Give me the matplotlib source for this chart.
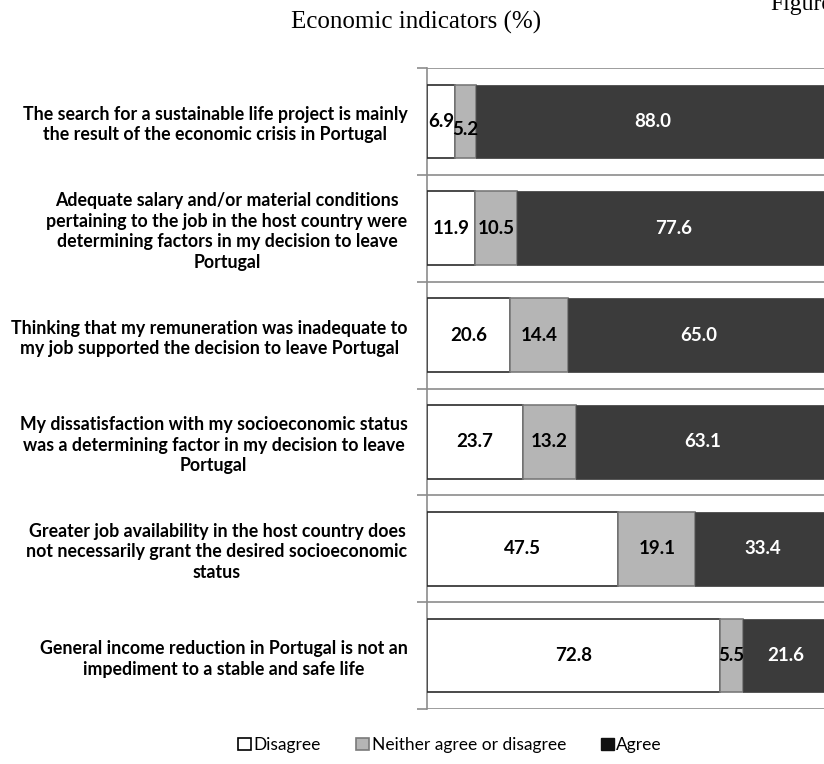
import numpy as np
import matplotlib
matplotlib.use("Agg")
import matplotlib.pyplot as plt
from matplotlib.patches import Patch

statements = [
    "The search for a sustainable life project is mainly\nthe result of the economic crisis in Portugal",
    "Adequate salary and/or material conditions\npertaining to the job in the host country were\ndetermining factors in my decision to leave\nPortugal",
    "Thinking that my remuneration was inadequate to\nmy job supported the decision to leave Portugal",
    "My dissatisfaction with my socioeconomic status\nwas a determining factor in my decision to leave\nPortugal",
    "Greater job availability in the host country does\nnot necessarily grant the desired socioeconomic\nstatus",
    "General income reduction in Portugal is not an\nimpediment to a stable and safe life",
]
disagree = [6.9, 11.9, 20.6, 23.7, 47.5, 72.8]
neither = [5.2, 10.5, 14.4, 13.2, 19.1, 5.5]
agree = [88.0, 77.6, 65.0, 63.1, 33.4, 21.6]
series_names = ["Disagree", "Neither agree or disagree", "Agree"]

W, H = 824, 764
fig = plt.figure(figsize=(W / 100, H / 100), dpi=100)
ax = fig.add_axes([427 / W, 1 - 709 / H, 1 - 427 / W, (709 - 68) / H])

sans = ["Lato", "DejaVu Sans"]
serif = ["Liberation Serif", "DejaVu Serif"]

y = np.arange(len(statements))
bh = 0.69
d = np.array(disagree)
n = np.array(neither)
a = np.array(agree)

ax.barh(y, d, height=bh, color="white", edgecolor="#2b2b2b", linewidth=1.2, zorder=3)
ax.barh(y, n, left=d, height=bh, color="#b5b5b5", edgecolor="#7a7a7a", linewidth=1.2, zorder=3)
ax.barh(y, a, left=d + n, height=bh, color="#3b3b3b", edgecolor="#3b3b3b", linewidth=0.5, zorder=3)

fs_num = 13.5
for i in range(len(y)):
    ax.text(d[i] / 2, y[i], f"{d[i]:.1f}", ha="center", va="center",
            fontsize=fs_num, fontweight="bold", family=sans, color="black", zorder=4)
    # the small neutral value in the first row sits a little low
    dy = 0.08 if i == 0 else 0
    ax.text(d[i] + n[i] / 2, y[i] + dy, f"{n[i]:.1f}", ha="center", va="center",
            fontsize=fs_num, fontweight="bold", family=sans, color="black", zorder=4)
    ax.text(d[i] + n[i] + a[i] / 2, y[i], f"{a[i]:.1f}", ha="center", va="center",
            fontsize=fs_num, fontweight="bold", family=sans, color="white", zorder=4)

# category separators
for b in np.arange(-0.5, len(y), 1.0):
    ax.axhline(b, color="#8c8c8c", linewidth=1.2, zorder=1)

ax.set_xlim(0, 98.5)
ax.set_ylim(len(y) - 0.5, -0.5)
ax.set_yticks(y)
ax.set_yticklabels(statements, fontsize=12.8, fontweight="bold", family=sans,
                   linespacing=1.25)
for lab in ax.get_yticklabels():
    lab.set_multialignment("center")
ax.set_yticks(np.arange(-0.5, len(y), 1.0), minor=True)
ax.tick_params(axis="y", which="major", length=0, pad=14)
ax.tick_params(axis="y", which="minor", length=7, color="#8c8c8c", width=1.2)
ax.set_xticks([])
for s in ["top", "right", "bottom"]:
    ax.spines[s].set_visible(False)
ax.spines["left"].set_color("#8c8c8c")
ax.spines["left"].set_linewidth(1.2)

fig.text(416 / W, 1 - 22 / H, "Economic indicators (%)", ha="center", va="center",
         fontsize=18, family=serif)
fig.text(770 / W, 1 - 10 / H, "Figure", ha="left", va="baseline",
         fontsize=17, family=serif)

handles = [
    Patch(facecolor="white", edgecolor="black", linewidth=1.2),
    Patch(facecolor="#b5b5b5", edgecolor="#7a7a7a", linewidth=1.2),
    Patch(facecolor="#111111", edgecolor="#111111"),
]
fig.legend(handles, series_names, loc="center", bbox_to_anchor=(450 / W, 1 - 745 / H),
           ncol=3, frameon=False, prop={"family": sans, "size": 12.5},
           handlelength=0.75, handleheight=0.75, handletextpad=0.15, columnspacing=2.0)

fig.savefig("out.png", dpi=100)
